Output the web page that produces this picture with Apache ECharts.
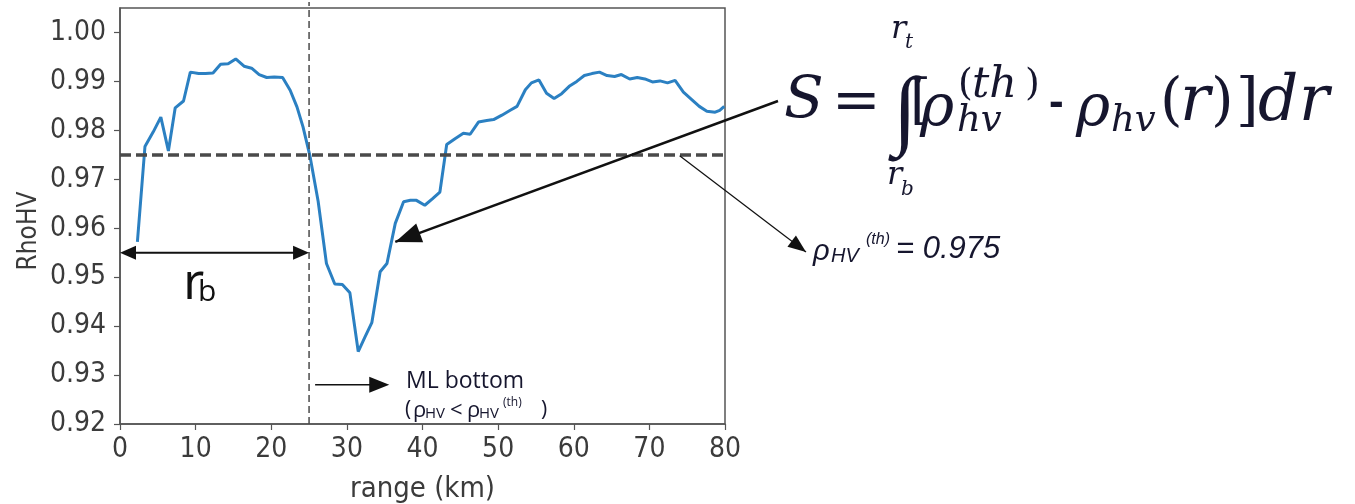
<!DOCTYPE html>
<html>
<head>
<meta charset="utf-8">
<script src="https://cdn.jsdelivr.net/npm/echarts@6/dist/echarts.min.js"></script>
<style>
  html, body { margin: 0; padding: 0; background: #ffffff; }
  #chart { width: 1355px; height: 504px; }
</style>
</head>
<body>
<div id="chart"></div>
<script>
// Range gates (km) and co-polar correlation coefficient along the ray
const rangeKm = [
  2.3, 3.3, 4.4, 5.4, 6.4, 7.3, 8.4, 9.3, 10.4, 11.3,
  12.3, 13.3, 14.3, 15.3, 16.4, 17.4, 18.4, 19.4, 20.4, 21.5,
  22.5, 23.4, 24.2, 25.1, 26.2, 27.3, 28.4, 29.4, 30.4, 31.5,
  32.4, 33.3, 34.4, 35.3, 36.4, 37.5, 38.4, 39.2, 40.3, 41.3,
  42.3, 43.2, 44.3, 45.4, 46.3, 47.4, 48.5, 49.4, 50.5, 51.6,
  52.5, 53.6, 54.4, 55.4, 56.4, 57.4, 58.4, 59.4, 60.4, 61.4,
  62.4, 63.4, 64.4, 65.4, 66.3, 67.4, 68.4, 69.4, 70.4, 71.4,
  72.4, 73.4, 74.5, 75.6, 76.6, 77.6, 78.7, 79.3, 79.9
];
const rhoHV = [
  0.9572, 0.9767, 0.9797, 0.9827, 0.9758, 0.9846, 0.9860, 0.9919, 0.9916, 0.9916,
  0.9917, 0.9935, 0.9936, 0.9946, 0.9931, 0.9927, 0.9914, 0.9908, 0.9909, 0.9908,
  0.9882, 0.9848, 0.9807, 0.9749, 0.9655, 0.9528, 0.9486, 0.9485, 0.9468, 0.9348,
  0.9378, 0.9407, 0.9511, 0.9528, 0.9610, 0.9654, 0.9657, 0.9657, 0.9647, 0.9660,
  0.9674, 0.9771, 0.9783, 0.9794, 0.9792, 0.9817, 0.9820, 0.9822, 0.9831, 0.9841,
  0.9849, 0.9883, 0.9897, 0.9903, 0.9876, 0.9865, 0.9875, 0.9890, 0.9900, 0.9912,
  0.9916, 0.9919, 0.9912, 0.9910, 0.9914, 0.9905, 0.9908, 0.9905, 0.9899, 0.9901,
  0.9897, 0.9902, 0.9878, 0.9863, 0.9849, 0.9839, 0.9837, 0.9841, 0.9849
];
const xTickValues = [0, 10, 20, 30, 40, 50, 60, 70, 80];
const yTickValues = [0.92, 0.93, 0.94, 0.95, 0.96, 0.97, 0.98, 0.99, 1.00];

// Threshold and melting-layer bottom
const rhoThreshold = 0.975;
const mlBottomKm = 25;

// Annotation anchors in data space
const rbArrowY = 0.955;
const mlArrow = { from: [25.8, 0.928], to: [35.6, 0.928] };
const areaArrowTip = [36.4, 0.9572];
const thArrowStart = [74, 0.9748];

const seriesData = rangeKm.map((r, i) => [r, rhoHV[i]]);

const axisGray = '#555555';
const textGray = '#3b3b3b';
const inkColor = '#16162e';
const axisFont = '"DejaVu Sans Condensed", "DejaVu Sans"';

const chart = echarts.init(document.getElementById('chart'), null, { renderer: 'canvas' });

chart.setOption({
  animation: false,
  backgroundColor: '#ffffff',
  grid: {
    left: 120, right: 630, top: 8, bottom: 80,
    containLabel: false, outerBoundsMode: 'none',
    show: true, borderColor: axisGray, borderWidth: 1.5, backgroundColor: 'transparent'
  },
  xAxis: {
    type: 'value',
    min: xTickValues[0], max: xTickValues[xTickValues.length - 1], interval: 10,
    name: 'range (km)', nameLocation: 'middle', nameGap: 51,
    nameTextStyle: { fontFamily: axisFont, fontSize: 29, color: textGray },
    axisLine: { show: true, lineStyle: { color: axisGray, width: 1.5 } },
    axisTick: { show: true, inside: false, length: 6, lineStyle: { color: axisGray, width: 1.2 } },
    axisLabel: { fontFamily: axisFont, fontSize: 28, color: textGray, margin: 12 },
    splitLine: { show: false }
  },
  yAxis: {
    type: 'value',
    min: yTickValues[0], max: 1.005, interval: 0.01,
    axisLine: { show: true, lineStyle: { color: axisGray, width: 1.5 } },
    axisTick: {
      show: true, inside: false, length: 6, customValues: yTickValues,
      lineStyle: { color: axisGray, width: 1.2 }
    },
    axisLabel: {
      fontFamily: axisFont, fontSize: 28, color: textGray, margin: 14,
      customValues: yTickValues,
      formatter: v => v.toFixed(2)
    },
    splitLine: { show: false }
  },
  series: [{
    type: 'line',
    data: seriesData,
    showSymbol: false,
    lineStyle: { color: '#2b80c2', width: 3 },
    itemStyle: { color: '#2b80c2' },
    z: 3,
    markLine: {
      silent: true,
      symbol: 'none',
      precision: 4,
      label: { show: false },
      lineStyle: { color: '#4a4a4a', width: 3.5, type: [11, 5] },
      data: [{ yAxis: rhoThreshold }]
    }
  }]
});

function px(p) { return chart.convertToPixel({ gridIndex: 0 }, p); }

// Filled triangular arrow head pointing at tip, coming from 'from'
function head(tip, from, len, half, color) {
  const dx = tip[0] - from[0], dy = tip[1] - from[1];
  const n = Math.hypot(dx, dy);
  const ux = dx / n, uy = dy / n;
  const bx = tip[0] - ux * len, by = tip[1] - uy * len;
  return {
    type: 'polygon', z: 20,
    shape: { points: [tip, [bx - uy * half, by + ux * half], [bx + uy * half, by - ux * half]] },
    style: { fill: color }
  };
}
function seg(a, b, w, color, dash) {
  return {
    type: 'line', z: 19,
    shape: { x1: a[0], y1: a[1], x2: b[0], y2: b[1] },
    style: { stroke: color, lineWidth: w, lineDash: dash || null }
  };
}
function txt(s, x, y, font, color, align) {
  return {
    type: 'text', z: 21,
    style: { text: s, x: x, y: y, font: font, fill: color || inkColor,
             align: align || 'left', verticalAlign: 'middle',
             textAlign: align || 'left', textVerticalAlign: 'middle' }
  };
}

const g = [];

// Y axis title, rotated
g.push({
  type: 'text', z: 21, x: 29, y: 231, rotation: Math.PI / 2,
  style: { text: 'RhoHV', x: 0, y: 0, font: '26px ' + axisFont, fill: textGray,
           align: 'center', verticalAlign: 'middle', textAlign: 'center', textVerticalAlign: 'middle' }
});

// Vertical dashed marker at the melting-layer bottom
const vBot = px([mlBottomKm, yTickValues[0]]);
const vTop = px([mlBottomKm, 1.005]);
g.push(seg([vBot[0], vBot[1]], [vTop[0], vTop[1] - 6], 1.5, '#4a4a4a', [7, 4]));

// r_b double arrow
const rbL = px([0, rbArrowY]), rbR = px([mlBottomKm, rbArrowY]);
g.push(seg([rbL[0] + 14, rbL[1]], [rbR[0] - 14, rbR[1]], 2, '#111'));
g.push(head(rbL, rbR, 16, 7, '#111'));
g.push(head(rbR, rbL, 16, 7, '#111'));
g.push(txt('r', 183, 284, '52px "Open Sans"', '#111'));
g.push(txt('b', 198, 292, '30px "Open Sans"', '#111'));

// ML bottom arrow and caption
const mA = px(mlArrow.from), mB = px(mlArrow.to);
g.push(seg(mA, [mB[0] - 16, mB[1]], 1.5, '#111'));
g.push(head(mB, mA, 20, 8, '#111'));
g.push(txt('ML bottom', 406, 381, '23px "Open Sans"'));
g.push(txt('(', 405, 410, '21px "Open Sans"'));
g.push(txt('ρ', 413, 411, '22px "Open Sans"'));
g.push(txt('HV', 425, 414, '15px "Open Sans"'));
g.push(txt('<', 450, 411, '22px "Open Sans"'));
g.push(txt('ρ', 467, 411, '22px "Open Sans"'));
g.push(txt('HV', 479, 414, '15px "Open Sans"'));
g.push(txt('(th)', 503, 403, '12px "Open Sans"'));
g.push(txt(')', 541, 410, '21px "Open Sans"'));

// Long arrow from the integral to the curve
const tip = px(areaArrowTip);
const fStart = [778, 101];
g.push(seg(fStart, tip, 2.5, '#111'));
g.push(head(tip, fStart, 26, 10, '#111'));

// Threshold arrow and value label
const tS = px(thArrowStart);
const tE = [806, 252];
g.push(seg(tS, tE, 1.2, '#111'));
g.push(head(tE, tS, 18, 7, '#111'));
g.push(txt('ρ', 813, 252, 'italic 29px "Liberation Sans"'));
g.push(txt('HV', 831, 256, 'italic 20px "Liberation Sans"'));
g.push(txt('(th)', 866, 240, 'italic 16px "Liberation Sans"'));
g.push(txt('= 0.975', 896, 249, 'italic 31px "Liberation Sans"'));

// S = ∫ [ρ_hv^(th) - ρ_hv(r)] dr, laid out glyph group by glyph group
const serifI = sz => 'italic ' + sz + 'px "DejaVu Serif"';
const serif = sz => sz + 'px "DejaVu Serif"';
g.push(txt('r', 891, 30, serifI(32)));
g.push(txt('t', 905, 43, serifI(20)));
g.push(txt('S', 784, 102, serifI(58)));
g.push(txt('=', 832, 104, serif(58)));
g.push(txt('∫', 893, 115, '88px "Liberation Serif"'));
g.push(txt('[', 910, 104, serif(54)));
g.push(txt('ρ', 920, 110, serifI(58)));
g.push(txt('(', 958, 85, serif(38)));
g.push(txt('th', 972, 86, serifI(43)));
g.push(txt(')', 1025, 85, serif(38)));
g.push(txt('hv', 957, 121, serifI(37)));
g.push(txt('-', 1049, 104, 'bold 44px "Liberation Sans"'));
g.push(txt('ρ', 1076, 110, serifI(58)));
g.push(txt('hv', 1111, 121, serifI(37)));
g.push(txt('(', 1160, 104, serif(58)));
g.push(txt('r', 1180, 104, serifI(63)));
g.push(txt(')', 1211, 104, serif(58)));
g.push(txt(']', 1236, 104, serif(58)));
g.push(txt('d', 1258, 104, serifI(63)));
g.push(txt('r', 1299, 104, serifI(63)));
g.push(txt('r', 887, 176, serifI(32)));
g.push(txt('b', 901, 190, serifI(20)));

chart.setOption({ graphic: g });
</script>
</body>
</html>
